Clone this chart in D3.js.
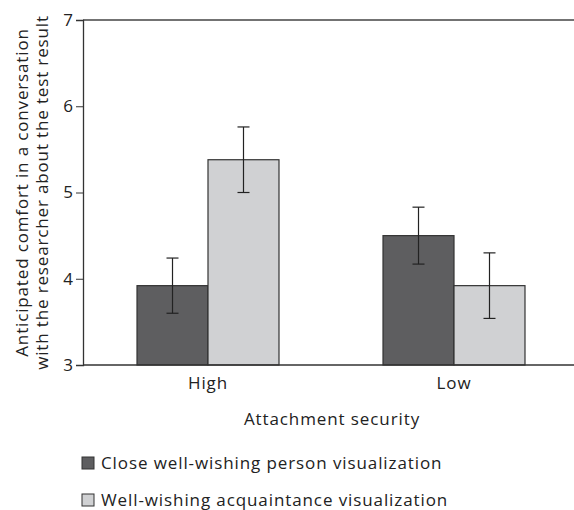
<!DOCTYPE html>
<html>
<head>
<meta charset="utf-8">
<script src="https://cdn.jsdelivr.net/npm/d3@7"></script>
<style>
  body { margin: 0; background: #fff; }
  text { font-family: "Open Sans", "Noto Sans", sans-serif; fill: #222; letter-spacing: 0.9px; }
</style>
</head>
<body>
<svg id="chart" width="574" height="510"></svg>
<script>
const groups = ["High", "Low"];
const seriesNames = ["Close well-wishing person visualization", "Well-wishing acquaintance visualization"];
const seriesColors = ["#5e5e60", "#d0d1d3"];
const means = [[3.92, 5.38], [4.50, 3.92]];   // [group][series]
const errs = [[0.32, 0.38], [0.33, 0.38]];
const yTicks = [3, 4, 5, 6, 7];

const svg = d3.select("#chart");
const margin = {top: 20, right: 0, bottom: 145, left: 83};
const width = 574 - margin.left - margin.right;
const height = 510 - margin.top - margin.bottom;

const g = svg.append("g").attr("transform", `translate(${margin.left},${margin.top})`);

const y = d3.scaleLinear().domain([3, 7]).range([height, 0]);
const x0 = d3.scaleBand().domain(groups).range([2, 494]).paddingInner(0.4228).paddingOuter(0.2114);
const x1 = d3.scaleBand().domain(d3.range(seriesNames.length)).range([0, x0.bandwidth()]);

// top frame line
g.append("line")
  .attr("x1", 0).attr("x2", width).attr("y1", 0).attr("y2", 0)
  .attr("stroke", "#444").attr("stroke-width", 1.3);

const yAxis = g.append("g")
  .call(d3.axisLeft(y).tickValues(yTicks).tickSize(7).tickPadding(3).tickFormat(d3.format("d")));
yAxis.select(".domain").attr("stroke", "#333").attr("stroke-width", 1.3);
yAxis.selectAll(".tick line").attr("stroke", "#333");
yAxis.selectAll("text").style("font-size", "17px").style("letter-spacing", "0").attr("fill", "#333");

const grp = g.selectAll(".grp")
  .data(groups)
  .join("g")
  .attr("transform", d => `translate(${x0(d)},0)`);

grp.selectAll("rect")
  .data((d, i) => means[i].map((v, j) => ({v, j})))
  .join("rect")
  .attr("x", d => x1(d.j))
  .attr("y", d => y(d.v))
  .attr("width", x1.bandwidth())
  .attr("height", d => y(3) - y(d.v))
  .attr("fill", d => seriesColors[d.j])
  .attr("stroke", "#333")
  .attr("stroke-width", 1.2);

const eb = grp.selectAll(".err")
  .data((d, i) => means[i].map((v, j) => ({v, e: errs[i][j], j})))
  .join("g")
  .attr("class", "err")
  .attr("stroke", "#222")
  .attr("stroke-width", 1.2);
eb.append("line")
  .attr("x1", d => x1(d.j) + x1.bandwidth() / 2)
  .attr("x2", d => x1(d.j) + x1.bandwidth() / 2)
  .attr("y1", d => y(d.v + d.e))
  .attr("y2", d => y(d.v - d.e));
[1, -1].forEach(s => {
  eb.append("line")
    .attr("x1", d => x1(d.j) + x1.bandwidth() / 2 - 6)
    .attr("x2", d => x1(d.j) + x1.bandwidth() / 2 + 6)
    .attr("y1", d => y(d.v + s * d.e))
    .attr("y2", d => y(d.v + s * d.e));
});

// bottom axis line
g.append("line")
  .attr("x1", 0).attr("x2", width).attr("y1", height).attr("y2", height)
  .attr("stroke", "#333").attr("stroke-width", 1.3);

g.selectAll(".xlab")
  .data(groups)
  .join("text")
  .attr("x", d => x0(d) + x0.bandwidth() / 2)
  .attr("y", height + 24)
  .attr("text-anchor", "middle")
  .style("font-size", "17px")
  .text(d => d);

g.append("text")
  .attr("x", 249)
  .attr("y", height + 60)
  .attr("text-anchor", "middle")
  .style("font-size", "17px")
  .text("Attachment security");

// y title, two lines
const yt = svg.append("text")
  .attr("transform", `translate(0,${margin.top + height / 2}) rotate(-90)`)
  .attr("text-anchor", "middle")
  .style("font-size", "17px")
  .style("letter-spacing", "0.85px");
yt.append("tspan").attr("x", 0).attr("y", 28).text("Anticipated comfort in a conversation");
yt.append("tspan").attr("x", 0).attr("y", 48).text("with the researcher about the test result");

// legend
const leg = svg.selectAll(".leg")
  .data(seriesNames)
  .join("g")
  .attr("transform", (d, i) => `translate(82,${457 + i * 37})`);
leg.append("rect")
  .attr("width", 12).attr("height", 12)
  .attr("fill", (d, i) => seriesColors[i])
  .attr("stroke", "#333").attr("stroke-width", 1);
leg.append("text")
  .attr("x", 19).attr("y", 12)
  .style("font-size", "17px")
  .text(d => d);
</script>
</body>
</html>
